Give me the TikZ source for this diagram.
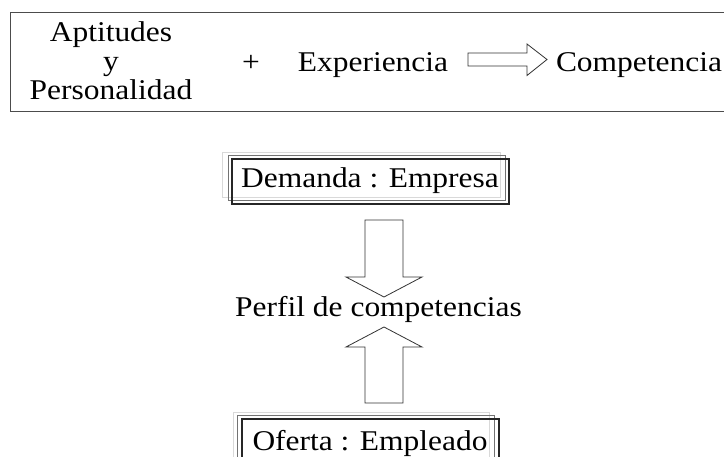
\documentclass[tikz,border=0pt]{standalone}
\usepackage{fontspec}
\setmainfont{Liberation Serif}[FakeStretch=1.1]
\begin{document}
\begin{tikzpicture}[x=1pt,y=-1pt,
  txt/.style={inner sep=0pt, anchor=base, font=\fontsize{28.6}{29}\selectfont},
  frame/.style={draw=black!70, line width=1pt},
  hollow/.style={draw=black!80, line width=0.8pt, fill=white, line join=miter},
  shadowA/.style={draw=black!15, line width=0.9pt},
  shadowB/.style={draw=black!55, line width=0.9pt},
  shadowC/.style={draw=black!85, line width=1.1pt}]
\clip (0,0) rectangle (724,457);
\fill[white] (0,0) rectangle (724,457);
% top box
\draw[frame] (740,13) -- (10.5,13) -- (10.5,112) -- (740,112);
\node[txt, align=center] (apt) at (111,100) {Aptitudes\\y\\Personalidad};
\node[txt] (plus) at (251,72) {+};
\node[txt] (exp) at (373,72) {Experiencia};
\node[txt] (comp) at (639,72) {Competencia};
% right hollow arrow
\coordinate (ra) at (468,59.5);
\draw[hollow] (ra) ++(0,-6.5) -- ++(59,0) -- ++(0,-9) -- (547,59.5) -- (527,75.5) -- ++(0,-9.5) -- ++(-59,0) -- cycle;
% Demanda box
\draw[shadowA] (222,152) rectangle (500,197);
\draw[shadowB] (228,155.5) rectangle (505,200.5);
\draw[shadowC] (232,159) rectangle (509,204);
\node[txt] (dem) at (370,188) {Demanda : Empresa};
% Perfil
\node[txt] (perf) at (378.5,317) {Perfil de competencias};
% down arrow
\draw[hollow] (365,220) -- (403,220) -- (403,277) -- (422,277) -- (384,297) -- (346,277) -- (365,277) -- cycle;
% up arrow
\draw[hollow] (384,327) -- (422,347) -- (403,347) -- (403,403) -- (365,403) -- (365,347) -- (346,347) -- cycle;
% Oferta box
\draw[shadowA] (233,412) rectangle (489,470);
\draw[shadowB] (237.5,415.5) rectangle (494,470);
\draw[shadowC] (242,419) rectangle (499,470);
\node[txt] (ofe) at (370,450) {Oferta : Empleado};
\end{tikzpicture}
\end{document}
